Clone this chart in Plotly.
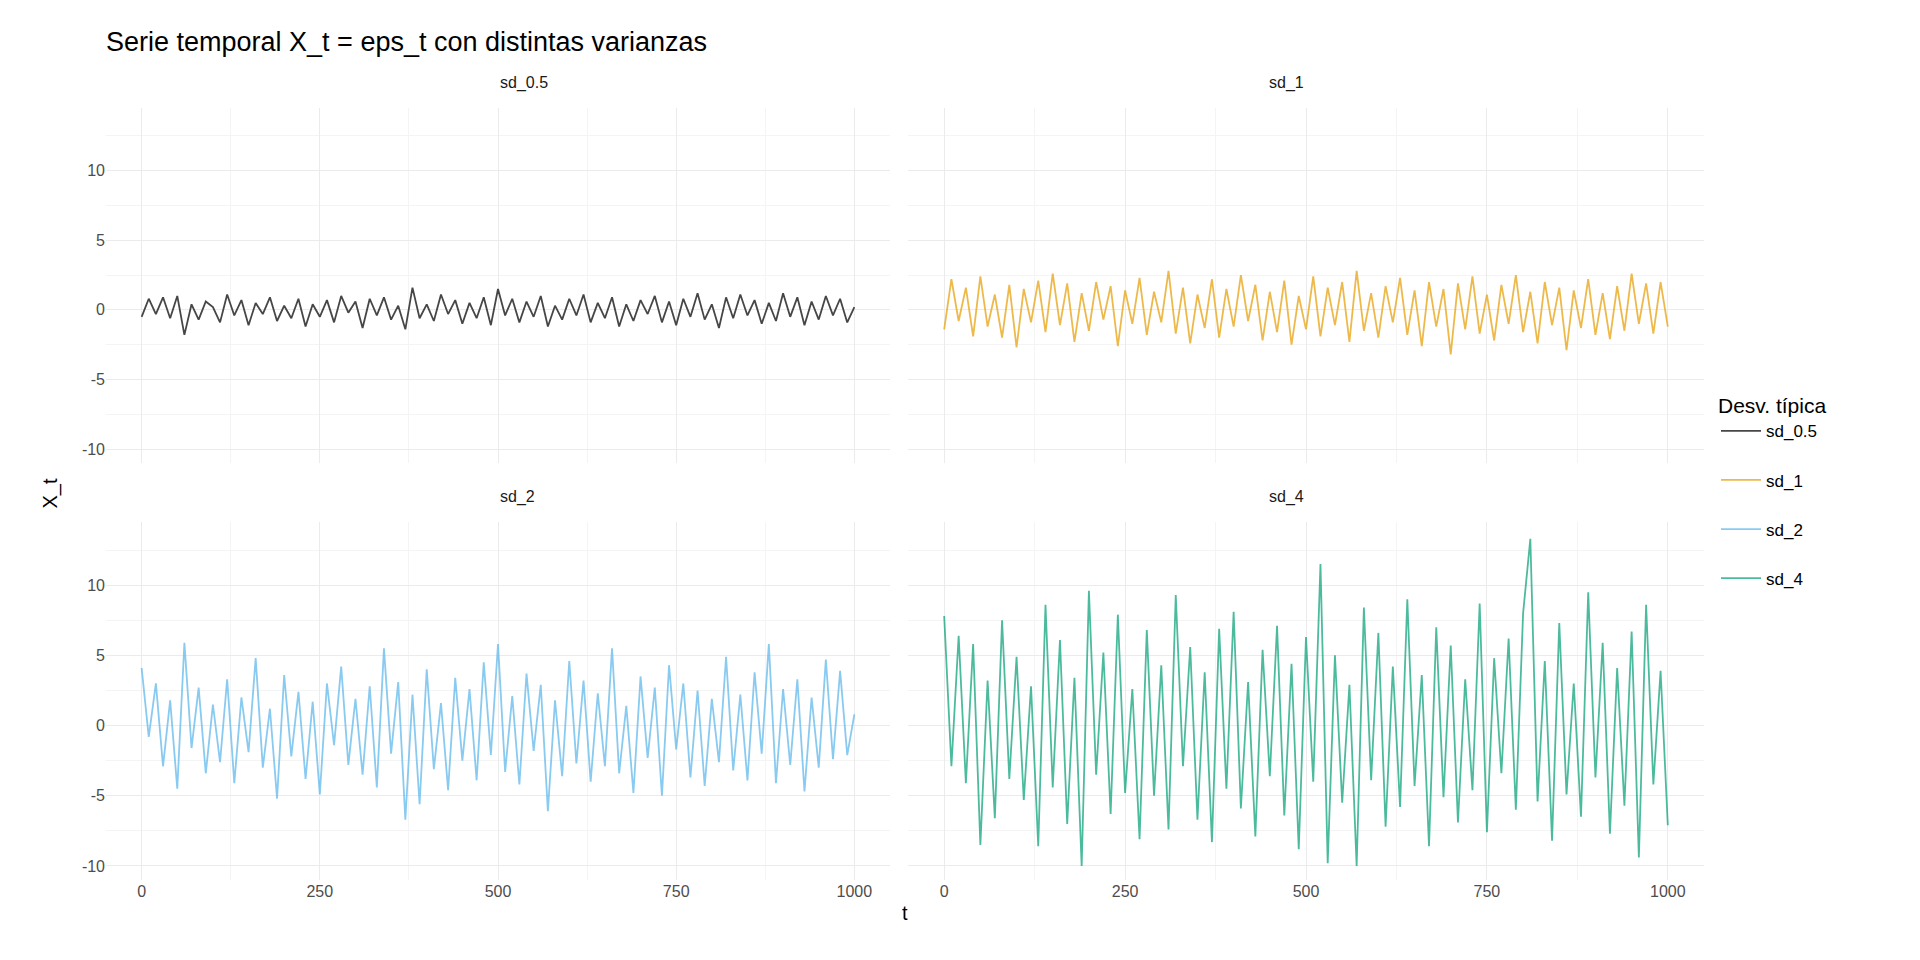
import plotly.graph_objects as go

# values every 10 steps of t
t = list(range(0, 1001, 10))

sd_05 = [-0.5, 0.8, -0.3, 0.9, -0.6, 1.0, -1.8, 0.4, -0.7, 0.6,
         0.2, -0.9, 1.1, -0.4, 0.7, -1.1, 0.5, -0.3, 0.9, -0.8,
         0.3, -0.6, 0.8, -1.2, 0.4, -0.5, 0.7, -0.9, 1.0, -0.2,
         0.6, -1.3, 0.8, -0.4, 0.9, -0.7, 0.3, -1.4, 1.6, -0.6,
         0.4, -0.8, 1.1, -0.3, 0.7, -1.0, 0.5, -0.6, 0.9, -1.1,
         1.5, -0.4, 0.8, -0.9, 0.6, -0.5, 1.0, -1.2, 0.3, -0.7,
         0.8, -0.4, 1.1, -0.9, 0.5, -0.6, 0.9, -1.2, 0.4, -0.8,
         0.7, -0.3, 1.0, -0.9, 0.6, -1.1, 0.8, -0.5, 1.2, -0.7,
         0.4, -1.3, 0.9, -0.6, 1.1, -0.4, 0.7, -1.0, 0.5, -0.8,
         1.2, -0.5, 0.9, -1.1, 0.6, -0.7, 1.0, -0.4, 0.8, -0.9, 0.2]

sd_1 = [-1.4, 2.2, -0.8, 1.6, -1.9, 2.4, -1.2, 1.1, -2.0, 1.8,
        -2.7, 1.5, -0.9, 2.1, -1.6, 2.6, -1.1, 1.9, -2.3, 1.2,
        -1.5, 2.0, -0.7, 1.7, -2.6, 1.4, -1.0, 2.3, -1.8, 1.3,
        -0.9, 2.8, -1.7, 1.6, -2.4, 1.1, -1.3, 2.2, -2.0, 1.5,
        -1.2, 2.5, -0.8, 1.8, -2.2, 1.3, -1.6, 2.1, -2.5, 1.0,
        -1.4, 2.4, -1.9, 1.6, -1.1, 2.0, -2.3, 2.8, -1.5, 1.2,
        -2.0, 1.7, -0.9, 2.3, -1.8, 1.4, -2.6, 2.0, -1.2, 1.5,
        -3.2, 1.9, -1.4, 2.4, -1.7, 1.1, -2.2, 1.8, -1.0, 2.5,
        -1.6, 1.3, -2.4, 2.0, -1.1, 1.6, -2.9, 1.4, -1.3, 2.2,
        -1.8, 1.2, -2.1, 1.7, -1.5, 2.6, -1.0, 1.9, -1.7, 2.0, -1.2]

sd_2 = [4.1, -0.8, 3.0, -2.9, 1.8, -4.5, 5.9, -1.6, 2.7, -3.4,
        1.5, -2.6, 3.3, -4.1, 2.0, -1.9, 4.8, -3.0, 1.2, -5.2,
        3.6, -2.2, 2.4, -3.8, 1.7, -4.9, 3.0, -1.4, 4.2, -2.8,
        1.9, -3.5, 2.8, -4.4, 5.5, -2.0, 3.1, -6.7, 2.2, -5.6,
        4.0, -3.1, 1.6, -4.6, 3.4, -2.5, 2.6, -3.9, 4.5, -2.1,
        5.8, -3.3, 2.1, -4.2, 3.7, -1.8, 2.9, -6.1, 1.8, -3.6,
        4.6, -2.7, 3.2, -4.0, 2.3, -2.9, 5.5, -3.4, 1.4, -4.8,
        3.5, -2.3, 2.7, -5.0, 4.3, -1.7, 3.0, -3.7, 2.5, -4.3,
        1.9, -2.6, 4.9, -3.2, 2.2, -3.9, 3.8, -2.0, 5.8, -4.1,
        2.6, -2.8, 3.3, -4.7, 2.0, -3.0, 4.7, -2.4, 3.9, -2.1, 0.8]

sd_4 = [7.8, -2.9, 6.4, -4.1, 5.8, -8.5, 3.2, -6.6, 7.5, -3.8,
        4.9, -5.3, 2.8, -8.6, 8.6, -4.4, 6.1, -7.0, 3.4, -10.0,
        9.6, -3.5, 5.2, -6.3, 7.9, -4.8, 2.6, -8.1, 6.8, -5.0,
        4.3, -7.4, 9.3, -2.9, 5.6, -6.7, 3.8, -8.3, 6.9, -4.5,
        8.1, -5.9, 3.1, -7.9, 5.4, -3.6, 7.1, -6.4, 4.4, -8.8,
        6.3, -4.0, 11.5, -9.8, 5.0, -5.5, 2.9, -10.0, 8.4, -3.9,
        6.6, -7.2, 4.2, -5.8, 9.0, -4.3, 3.6, -8.6, 7.0, -5.1,
        5.7, -6.9, 3.3, -4.6, 8.7, -7.6, 4.8, -3.4, 6.2, -6.0,
        8.0, 13.3, -5.4, 4.6, -8.2, 7.3, -4.9, 3.0, -6.5, 9.5,
        -3.7, 5.9, -7.7, 4.1, -5.7, 6.7, -9.4, 8.6, -4.2, 3.9, -7.1]

names = ["sd_0.5", "sd_1", "sd_2", "sd_4"]
series = [sd_05, sd_1, sd_2, sd_4]
colors = ["rgba(60,60,60,0.95)", "rgba(232,168,30,0.8)",
          "rgba(86,180,233,0.7)", "rgba(0,158,115,0.7)"]
y_ticks = [-10, -5, 0, 5, 10]
y_labels = ["-10", "-5", "0", "5", "10"]

W, H = 1920, 960
px_x = [(98, 882), (900, 1696), (98, 882), (900, 1696)]
px_y = [(100, 455), (100, 455), (514, 872), (514, 872)]

fig = go.Figure()
grid = "#EBEBEB"
tickfont = dict(family="Liberation Sans", size=16, color="#4D4D4D")

for i, (name, y, col) in enumerate(zip(names, series, colors)):
    n = i + 1
    xa = "x" if n == 1 else f"x{n}"
    ya = "y" if n == 1 else f"y{n}"
    fig.add_trace(go.Scatter(x=t, y=y, mode="lines", name=name,
                             legendgroup=name,
                             line=dict(color=col, width=1.8),
                             xaxis=xa, yaxis=ya))
    x0, x1 = px_x[i]
    y0, y1 = px_y[i]
    bottom = i >= 2
    left = i % 2 == 0
    fig.layout[f"xaxis{'' if n == 1 else n}"] = dict(
        domain=[x0 / W, x1 / W], anchor=ya, range=[-50, 1050],
        tickvals=[0, 250, 500, 750, 1000], showticklabels=bottom,
        showgrid=True, gridcolor=grid, gridwidth=1.3, zeroline=False,
        minor=dict(dtick=125, tick0=125, showgrid=True, gridcolor="#F4F4F4"),
        tickfont=tickfont, showline=False, ticks="")
    fig.layout[f"yaxis{'' if n == 1 else n}"] = dict(
        domain=[1 - y1 / H, 1 - y0 / H], anchor=xa, range=[-11, 14.5],
        tickvals=y_ticks, ticktext=y_labels, showticklabels=left,
        showgrid=True, gridcolor=grid, gridwidth=1.3, zeroline=False,
        minor=dict(dtick=5, tick0=2.5, showgrid=True, gridcolor="#F4F4F4"),
        tickfont=tickfont, showline=False, ticks="")
    fig.add_annotation(text=name, x=(x0 + x1) / 2 / W, y=1 - (y0 - 14) / H,
                       xref="paper", yref="paper", showarrow=False,
                       yanchor="bottom",
                       font=dict(family="Liberation Sans", size=16, color="#1A1A1A"))

fig.add_annotation(text="t", x=(98 + 1696) / 2 / W, y=1 - 918 / H, xref="paper",
                   yref="paper", showarrow=False,
                   font=dict(family="Liberation Sans", size=20, color="black"))
fig.add_annotation(text="X_t", x=28 / W, y=1 - 486 / H, xref="paper",
                   yref="paper", showarrow=False, textangle=-90,
                   font=dict(family="Liberation Sans", size=20, color="black"))

fig.update_layout(
    width=W, height=H, plot_bgcolor="white", paper_bgcolor="white",
    margin=dict(l=0, r=0, t=0, b=0),
    title=dict(text="Serie temporal X_t = eps_t con distintas varianzas",
               x=98 / W, xanchor="left", y=1 - 34 / H, yanchor="middle",
               font=dict(family="Liberation Sans", size=27, color="black")),
    legend=dict(x=1708 / W, y=1 - 378 / H, xanchor="left", yanchor="top",
                title=dict(text="Desv. típica",
                           font=dict(family="Liberation Sans", size=21, color="black")),
                font=dict(family="Liberation Sans", size=17, color="black"),
                tracegroupgap=24, itemwidth=40),
)

fig.write_html("out.html")
